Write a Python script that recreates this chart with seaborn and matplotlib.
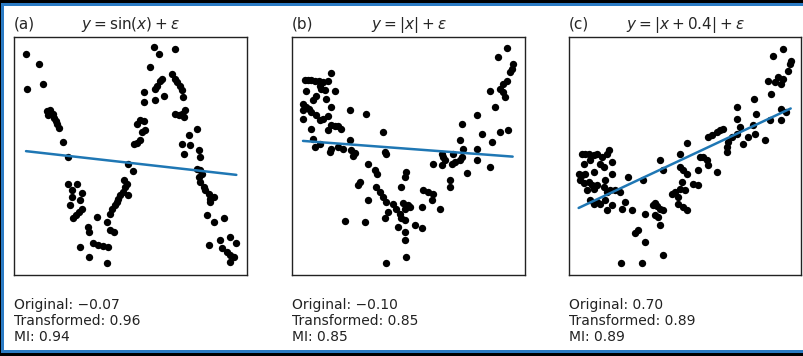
import numpy as np
import pandas as pd
import matplotlib
matplotlib.use("Agg")
import matplotlib.pyplot as plt
import seaborn as sns
from matplotlib.patches import Rectangle

sns.set_style("white")
plt.rcParams['font.family'] = ['DejaVu Sans']

# ---------------- data (arbitrary units) ----------------
a_x = [-3.13, -2.73, -3.09, -2.61, -2.51, -2.41, -2.33, -2.48, -2.29, -2.23, -2.19, -2.13,
       -2.01, -1.88, -1.88, -1.59, -1.76, -1.46, -1.76, -1.51, -1.81, -1.46, -1.53, -1.63,
       -1.71, -1.01, -1.26, -1.23, -1.51, -1.11, -0.96, -0.81, -0.66, -1.23, -0.71, -0.71,
       -0.61, -0.49, -0.61, -0.56, -0.46, -0.41, -0.36, -0.31, -0.21, -0.16, -0.11, -0.06,
       -0.19, -0.06, 0.07, 0.09, 0.19, 0.29, 0.19, 0.29, 0.39, 0.44, 0.34, 0.39, 0.41, 0.57,
       0.74, 0.79, 0.87, 0.94, 0.99, 0.74, 0.71, 0.84, 1.34, 1.24, 1.34, 1.39, 1.49, 1.54,
       1.57, 1.34, 1.44, 1.54, 1.64, 1.59, 1.74, 1.54, 1.79, 1.99, 2.04, 1.59, 2.09, 1.99,
       2.09, 2.14, 2.04, 2.09, 2.19, 2.24, 2.34, 2.39, 2.49, 2.39, 2.29, 2.49, 2.81, 2.34,
       2.69, 2.74, 2.97, 3.17, 2.99, 3.09, 2.97, 2.89]
a_y = [3.07, 2.77, 2.02, 2.17, 1.35, 1.37, 1.27, 1.22, 1.15, 1.05, 0.95, 0.85,
       0.42, -0.03, -0.85, -0.83, -1.03, -1.11, -1.23, -1.33, -1.48, -1.58, -1.68, -1.78,
       -1.88, -1.83, -2.13, -2.28, -2.73, -2.63, -2.68, -2.71, -2.73, -3.03, -3.23, -1.98,
       -2.23, -2.28, -1.73, -1.58, -1.48, -1.38, -1.28, -1.18, -1.08, -0.93, -0.83, -1.18,
       -0.73, -0.23, -0.45, 0.37, 0.39, 0.47, 0.97, 1.07, 1.05, 0.77, 0.72, 1.92, 1.62, 2.67,
       2.02, 2.12, 2.27, 2.32, 1.82, 1.69, 3.27, 3.07, 3.22, 2.47, 2.32, 2.22, 2.12, 1.99,
       1.77, 1.27, 1.22, 1.27, 1.37, 1.17, 0.62, 0.37, 0.32, 0.82, 0.17, 0.07, -0.03, -0.38,
       -0.43, -0.53, -0.63, -0.78, -0.93, -1.03, -1.13, -1.28, -1.23, -1.38, -1.78, -1.98, -1.88, -2.68,
       -2.53, -2.78, -2.43, -2.63, -2.98, -3.03, -3.18, -2.88]

b_x = [-3.11, -3.01, -2.91, -2.81, -2.68, -2.56, -2.41, -2.31, -2.66, -2.61, -2.51, -2.21,
       -3.06, -2.76, -2.86, -2.46, -3.16, -3.08, -2.98, -3.16, -2.91, -2.76, -3.16, -2.66,
       -2.56, -2.41, -2.31, -1.76, -1.26, -2.91, -2.31, -2.21, -2.11, -2.01, -2.41, -2.86,
       -2.81, -2.66, -2.36, -2.31, -2.11, -1.96, -1.76, -1.71, -1.61, -1.66,
       -0.76, -0.71, -0.66, -1.21, -1.01, -0.94, -1.46, -1.51, -0.96, -0.86, -0.76, -0.66,
       -0.46, -1.21, -0.61, -0.38, -0.16, -0.11, -0.01, 0.04, -0.26, -0.21, -0.11, -0.31,
       -0.11, -0.71, -1.91, -1.31, 0.19, 0.39, -0.11, -0.06, -0.66, -0.21, -0.06, -0.11,
       0.44, 0.59, 0.74, 0.69, 0.39, 0.94,
       0.74, 0.99, 1.04, 0.99, 1.09, 1.24, 1.24, 1.29, 1.39, 1.34, 1.54, 1.59, 1.64, 1.54,
       1.59, 1.74, 2.04, 2.04, 2.04, 2.19, 2.44, 2.49, 2.59, 2.74, 2.99, 2.44, 2.74, 2.84,
       2.89, 2.84, 2.94, 3.04, 3.09, 3.12, 2.69, 2.96]
b_y = [2.29, 2.29, 2.29, 2.27, 2.27, 2.22, 2.27, 2.49, 2.12, 2.02, 1.99, 1.97,
       1.97, 1.82, 1.67, 1.72, 1.57, 1.47, 1.42, 1.37, 1.32, 1.22, 1.12, 1.09,
       1.12, 1.19, 1.47, 1.39, 1.27, 0.82, 0.92, 0.89, 0.89, 0.82, 0.77, 0.52,
       0.27, 0.35, 0.12, 0.22, 0.27, 0.22, 0.47, 0.17, 0.09, -0.01,
       0.72, 0.12, 0.07, -0.23, -0.43, -0.53, -0.78, -0.88, -0.93, -1.08, -1.23, -1.38,
       -1.43, -1.33, -1.68, -1.58, -1.41, -1.58, -1.48, -1.53, -1.73, -1.88, -1.93, -2.13,
       -2.28, -1.88, -1.95, -1.98, -2.08, -2.16, -2.53, -3.03, -3.23, -0.93, -0.48, -0.63,
       -1.03, -1.08, -1.13, -1.33, -1.53, -1.58,
       -0.23, 0.07, -0.03, -0.28, -0.13, -0.73, -0.93, -0.23, -0.18, 0.07, -0.13, -0.03, 0.22, 0.47,
       0.97, -0.51, -0.13, 1.22, 0.22, 0.67, -0.33, 0.42, 1.47, 0.72, 0.79, 1.95, 2.02, 1.92,
       1.79, 2.17, 2.27, 2.52, 2.62, 2.77, 2.97, 3.24]

c_x = [-3.10, -3.00, -2.90, -2.75, -2.65, -2.50, -2.35, -2.30, -2.20, -3.05, -2.85, -2.55,
       -2.45, -3.20, -3.10, -3.00, -2.75, -3.15, -3.05, -2.90, -2.80, -2.65, -2.95, -2.75,
       -2.40, -2.20, -2.45, -2.35, -2.25, -2.10, -2.85, -2.75, -2.65, -2.55, -2.40, -2.35,
       -2.20, -1.95, -1.90, -1.70, -1.80, -1.60,
       -1.25, -1.20, -0.95, -0.90, -0.85, -0.75, -0.65, -0.90, -0.80, -0.75, -1.50, -1.40,
       -1.20, -1.92, -1.30, -0.65, -0.75, -0.65, -0.40, -0.30, -0.15, -0.10, 0.00, -0.20,
       -0.05, 0.05, -0.20, -0.15, -0.05, -0.15, 0.05, 0.05, 0.25, 0.40, 0.40, 0.45, 0.55,
       0.65, 0.70, 0.95, 0.70, 0.80, 0.95, 1.05, 1.15, 1.25, 1.25, 1.30, 1.40, 1.55, 1.55,
       1.55, 1.65, 1.75, 1.90, 2.05, 2.15, 2.10, 2.40, 2.08, 2.55, 2.60, 2.65, 2.95, 2.90,
       2.88, 2.50, 2.70, 2.80, 2.90, 2.95, 3.10, 3.15, 3.18, 3.05]
c_y = [0.07, 0.07, 0.07, 0.02, 0.07, -0.03, 0.07, 0.19, -0.18, -0.23, -0.13, -0.23,
       -0.33, -0.53, -0.58, -0.53, -0.48, -0.73, -0.81, -0.78, -0.88, -0.88, -1.03, -0.98,
       -0.73, -0.53, -0.93, -1.08, -1.03, -1.03, -1.33, -1.43, -1.38, -1.43, -1.33, -1.63,
       -1.48, -1.08, -1.58, -0.63, -1.38, -1.63,
       -0.73, -1.73, -1.48, -1.41, -1.51, -1.58, -1.63, -1.78, -1.83, -2.08, -2.33, -2.23,
       -2.58, -3.23, -3.23, -2.98, -0.13, -0.43, -1.13, -1.08, -0.98, -0.78, -1.03, -1.43,
       -1.53, -1.63, -1.23, -0.33, -0.43, 0.07, 0.39, -0.53, -0.83, -0.88, -0.43, -0.03, -0.03,
       -0.13, -0.28, -0.48, 0.57, 0.62, 0.72, 0.77, 0.82, 0.12, 0.27, 0.42, 0.57, 0.67, 1.12,
       1.47, 0.87, 0.37, 0.57, 0.92, 1.27, 0.67, 0.47, 1.72, 1.07, 1.87, 3.02, 3.22, 1.07,
       1.42, 2.27, 2.22, 2.37, 2.17, 2.32, 2.57, 2.77, 2.87, 1.32]

panel_labels = ["(a)", "(b)", "(c)"]
formulas = [r"$y = \sin(x) + \varepsilon$", r"$y = |x| + \varepsilon$", r"$y = |x + 0.4| + \varepsilon$"]
original = ["\u22120.07", "\u22120.10", "0.70"]
transformed = ["0.96", "0.85", "0.89"]
mi = ["0.94", "0.85", "0.89"]

datasets = [(a_x, a_y), (b_x, b_y), (c_x, c_y)]

# ---------------- figure ----------------
W, H = 804, 356
fig = plt.figure(figsize=(W / 100, H / 100), dpi=100)

# screenshot-like frame
fig.patches.append(Rectangle((0, 0), 1, 1, transform=fig.transFigure,
                             facecolor="black", edgecolor="none", zorder=-3))
fig.patches.append(Rectangle((1 / W, 3 / H), 1, 350 / H, transform=fig.transFigure,
                             facecolor="#2b7bc4", edgecolor="none", zorder=-2))
fig.patches.append(Rectangle((4 / W, 6 / H), 1, 344 / H, transform=fig.transFigure,
                             facecolor="white", edgecolor="none", zorder=-1))

lefts = [14, 292, 569]
widths = [233, 233, 232]
top_px, bot_px = 37, 275

for i, (xs, ys) in enumerate(datasets):
    ax = fig.add_axes([lefts[i] / W, 1 - bot_px / H, widths[i] / W, (bot_px - top_px) / H])
    df = pd.DataFrame({"x": xs, "y": ys})
    sns.regplot(data=df, x="x", y="y", ax=ax, ci=None,
                scatter_kws=dict(color="black", s=28, linewidths=0, alpha=1.0),
                line_kws=dict(color="#1f77b4", lw=1.8))
    ax.set_xlim(-3.49, 3.49)
    ax.set_ylim(-3.58, 3.58)
    ax.set_xticks([])
    ax.set_yticks([])
    ax.set_xlabel("")
    ax.set_ylabel("")
    for sp in ax.spines.values():
        sp.set_visible(True)
        sp.set_color("#222222")
        sp.set_linewidth(1.0)
    ax.set_title(formulas[i], fontsize=11, pad=6)
    ax.set_title(panel_labels[i], fontsize=11, pad=6, loc="left")
    fig.text(lefts[i] / W, 1 - 298 / H,
             f"Original: {original[i]}\nTransformed: {transformed[i]}\nMI: {mi[i]}",
             fontsize=10, va="top", ha="left", color="#222222", linespacing=1.2)

fig.savefig("out.png", dpi=100)
